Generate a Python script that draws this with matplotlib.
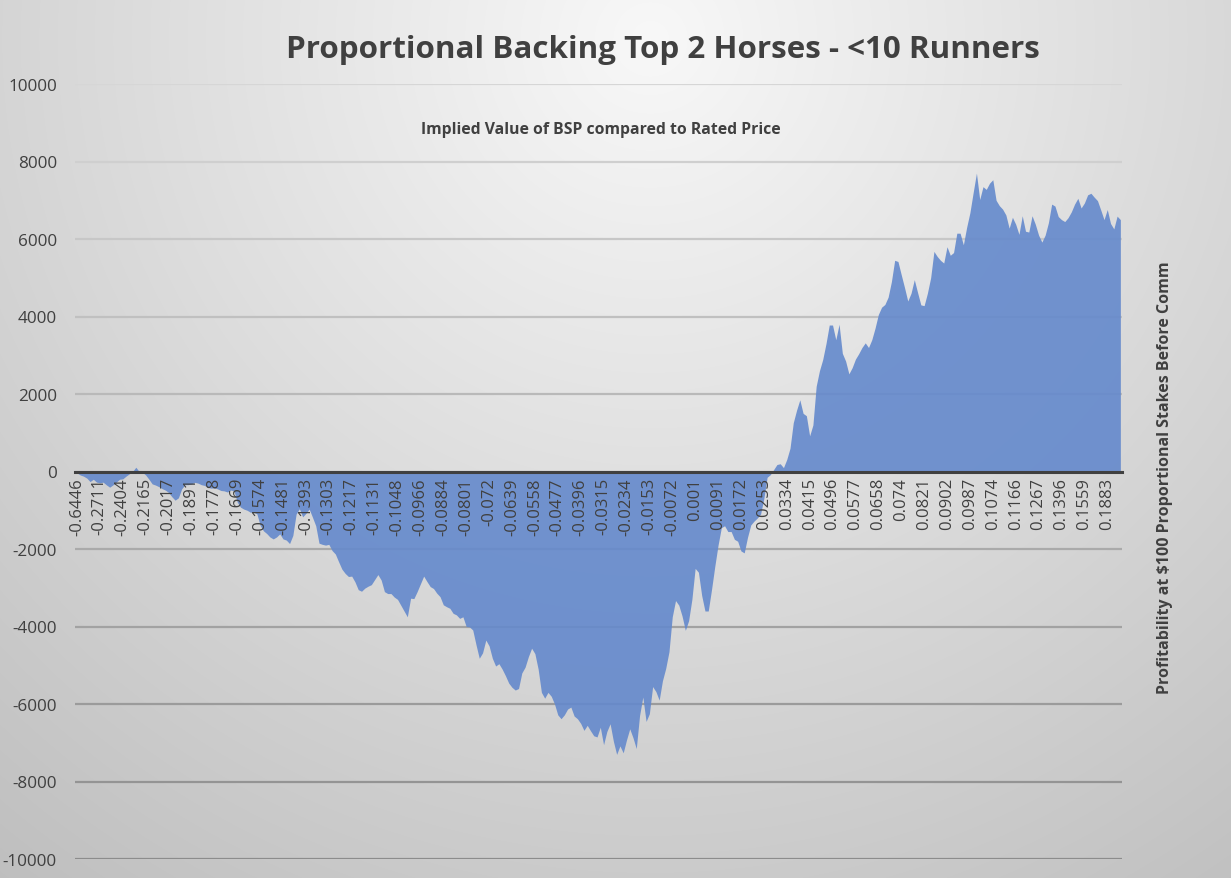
import numpy as np
import matplotlib
matplotlib.use("Agg")
import matplotlib.pyplot as plt

plt.rcParams['font.family'] = ['Open Sans', 'DejaVu Sans']

# x-axis category labels (every 7th point carries one)
x_labels = ["-0.6446", "-0.2711", "-0.2404", "-0.2165", "-0.2017", "-0.1891",
            "-0.1778", "-0.1669", "-0.1574", "-0.1481", "-0.1393", "-0.1303",
            "-0.1217", "-0.1131", "-0.1048", "-0.0966", "-0.0884", "-0.0801",
            "-0.072", "-0.0639", "-0.0558", "-0.0477", "-0.0396", "-0.0315",
            "-0.0234", "-0.0153", "-0.0072", "0.001", "0.0091", "0.0172",
            "0.0253", "0.0334", "0.0415", "0.0496", "0.0577", "0.0658",
            "0.074", "0.0821", "0.0902", "0.0987", "0.1074", "0.1166",
            "0.1267", "0.1396", "0.1559", "0.1883"]
label_every = 7

# cumulative profit
profit = [
    -35, -90, -120, -170, -260, -200, -275,
    -290, -275, -345, -405, -345, -275, -200,
    -190, -120, -60, 0, 110, 0, -20,
    -90, -200, -320, -350, -390, -440, -480,
    -540, -650, -740, -680, -450, -340, -340,
    -320, -280, -300, -340, -360, -410, -430,
    -420, -450, -490, -500, -530, -480, -500,
    -790, -920, -970, -1000, -1050, -1050, -1090,
    -1390, -1530, -1600, -1690, -1740, -1690, -1610,
    -1740, -1770, -1860, -1650, -1100, -960, -1170,
    -1080, -970, -1180, -1400, -1850, -1880, -1900,
    -1880, -2040, -2130, -2330, -2520, -2630, -2710,
    -2700, -2850, -3050, -3090, -3010, -2960, -2920,
    -2790, -2660, -2800, -3100, -3150, -3150, -3240,
    -3300, -3450, -3600, -3750, -3270, -3280, -3100,
    -2900, -2700, -2840, -2970, -3020, -3140, -3230,
    -3440, -3490, -3530, -3660, -3700, -3790, -3750,
    -4000, -4010, -4090, -4470, -4820, -4680, -4350,
    -4500, -4820, -5020, -4960, -5100, -5270, -5460,
    -5570, -5640, -5600, -5200, -5050, -4780, -4560,
    -4700, -5100, -5700, -5850, -5700, -5800, -6000,
    -6280, -6380, -6280, -6130, -6080, -6310, -6380,
    -6500, -6680, -6550, -6690, -6820, -6850, -6600,
    -7050, -6710, -6510, -6960, -7300, -7080, -7260,
    -6930, -6640, -6870, -7150, -6300, -5820, -6450,
    -6250, -5550, -5680, -5900, -5400, -5080, -4650,
    -3750, -3330, -3450, -3730, -4100, -3850, -3300,
    -2500, -2600, -3200, -3600, -3600, -3050, -2450,
    -1900, -1450, -1400, -1550, -1550, -1750, -1800,
    -2050, -2100, -1700, -1380, -1280, -1200, -1100,
    -700, -150, -80, 50, 180, 200, 100,
    310, 600, 1260, 1580, 1850, 1500, 1440,
    920, 1200, 2200, 2600, 2890, 3300, 3780,
    3780, 3400, 3800, 3050, 2850, 2520, 2680,
    2900, 3040, 3200, 3320, 3200, 3400, 3700,
    4050, 4240, 4310, 4500, 4900, 5450, 5420,
    5080, 4750, 4400, 4600, 4950, 4620, 4300,
    4280, 4600, 5000, 5680, 5550, 5450, 5380,
    5800, 5580, 5650, 6150, 6150, 5850, 6300,
    6680, 7200, 7700, 7020, 7350, 7280, 7440,
    7530, 7000, 6860, 6770, 6620, 6280, 6560,
    6380, 6120, 6600, 6200, 6180, 6600, 6380,
    6100, 5920, 6100, 6420, 6900, 6850, 6580,
    6500, 6450, 6550, 6700, 6900, 7050, 6800,
    6930, 7140, 7180, 7080, 6990, 6750, 6500,
    6760, 6400, 6260, 6590, 6500,
]

y_ticks = list(range(-10000, 10001, 2000))

W, H = 1231, 879
fig = plt.figure(figsize=(W / 100, H / 100), dpi=100)

# soft radial grey background like the Excel chart style
bg = fig.add_axes([0, 0, 1, 1], zorder=-10)
yy, xx = np.mgrid[0:H, 0:W]
dist = np.hypot(xx - 650, yy - 40)
shade = np.clip(248 - 0.054 * dist, 0, 255) / 255
bg.imshow(np.dstack([shade] * 3), aspect='auto', extent=(0, 1, 0, 1))
bg.axis('off')

ax = fig.add_axes([75 / W, 1 - 860 / H, (1122 - 75) / W, (860 - 85) / H])
ax.set_facecolor('none')

x = np.arange(len(profit))
ax.fill_between(x, profit, 0, color='#6489cc', alpha=0.9, lw=0, zorder=1)

# gridlines get darker toward the bottom
for v in y_ticks:
    g = 0.84 - 0.29 * (10000 - v) / 20000
    ax.axhline(v, color=(g, g, g), lw=1.6, zorder=0.5)

ax.set_xlim(-0.6, len(profit) - 0.5)
ax.set_ylim(-10000, 10000)

for side in ['top', 'right', 'left']:
    ax.spines[side].set_visible(False)
ax.spines['bottom'].set_position(('data', 0))
ax.spines['bottom'].set_color('#404040')
ax.spines['bottom'].set_linewidth(2.2)
ax.spines['bottom'].set_zorder(4)
ax.xaxis.set_zorder(5)

ax.set_xticks(x[::label_every])
ax.set_xticklabels(x_labels, rotation=90, fontsize=12, color='#404040')
ax.set_yticks(y_ticks)
ax.set_yticklabels([str(v) for v in y_ticks], fontsize=12.3, color='#404040')
ax.tick_params(axis='x', length=0, pad=4)
ax.tick_params(axis='y', length=0, pad=13)

fig.text(663 / W, 1 - 50 / H, "Proportional Backing Top 2 Horses - <10 Runners",
         ha='center', va='center', fontsize=22.6, fontweight='bold', color='#404040')
fig.text(601 / W, 1 - 130 / H, "Implied Value of BSP compared to Rated Price",
         ha='center', va='center', fontsize=11.3, fontweight='bold', color='#404040')
fig.text(1165 / W, 1 - 478 / H, "Profitability at $100 Proportional Stakes Before Comm",
         ha='center', va='center', rotation=90, fontsize=11.5, fontweight='bold',
         color='#404040')

fig.savefig("out.png", dpi=100)
